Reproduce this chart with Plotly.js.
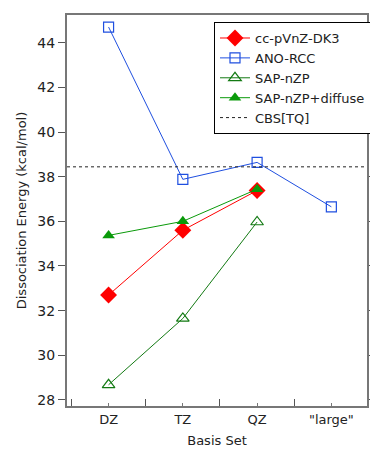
<!DOCTYPE html>
<html><head><meta charset="utf-8">
<script src="https://cdn.plot.ly/plotly-3.0.1.min.js"></script>
<style>html,body{margin:0;background:#fff;overflow:hidden}#c{width:372px;height:452px}</style>
</head><body><div id="c"></div>
<script>
const categories = ['DZ', 'TZ', 'QZ', '"large"'];
const ccDK3 = [32.7, 35.6, 37.38];
const anoRCC = [44.7, 37.88, 38.64, 36.65];
const sapNZP = [28.68, 31.65, 35.97];
const sapDiffuse = [35.37, 36.0, 37.44];
const cbsTQ = 38.44;
const yTicks = [28, 30, 32, 34, 36, 38, 40, 42, 44];
const catIdx = categories.map((c, i) => i);
const xr = [-0.56, 3.48];
const font = 'DejaVu Sans, Verdana, sans-serif';

const traces = [
  {x: categories.slice(0, ccDK3.length), y: ccDK3, name: 'cc-pVnZ-DK3', mode: 'lines+markers',
   line: {color: '#ff0000', width: 1}, marker: {symbol: 'diamond', size: 13, color: '#ff0000'}},
  {x: categories.slice(0, anoRCC.length), y: anoRCC, name: 'ANO-RCC', mode: 'lines+markers',
   line: {color: '#1f4fe0', width: 1}, marker: {symbol: 'square-open', size: 10, color: '#1f4fe0', line: {width: 1.2}}},
  {x: categories.slice(0, sapNZP.length), y: sapNZP, name: 'SAP-nZP', mode: 'lines+markers',
   line: {color: '#137a13', width: 1}, marker: {symbol: 'triangle-up-open', size: 11, color: '#137a13', line: {width: 1.2}}},
  {x: categories.slice(0, sapDiffuse.length), y: sapDiffuse, name: 'SAP-nZP+diffuse', mode: 'lines+markers',
   line: {color: '#0a9a0a', width: 1}, marker: {symbol: 'triangle-up', size: 11, color: '#0a9a0a'}},
  {x: xr, y: [cbsTQ, cbsTQ], name: 'CBS[TQ]', mode: 'lines', xaxis: 'x2',
   line: {color: '#222', width: 1, dash: 'dot'}}
];

const layout = {
  width: 372, height: 452,
  margin: {l: 67, r: 1, t: 15, b: 46},
  paper_bgcolor: '#fff', plot_bgcolor: '#fff',
  font: {family: font, size: 14, color: '#222'},
  showlegend: true,
  legend: {x: 0.49, y: 0.982, xanchor: 'left', yanchor: 'top', bgcolor: '#fff',
    bordercolor: '#000', borderwidth: 1, font: {family: font, size: 13, color: '#222'},
    tracegroupgap: 0},
  xaxis: {type: 'category', range: xr, tickson: 'boundaries', ticks: 'inside', ticklen: 7,
    tickcolor: '#555', showline: true, linecolor: '#777', linewidth: 2, mirror: true,
    showgrid: false, zeroline: false, tickfont: {size: 13},
    title: {text: 'Basis Set', font: {family: font, size: 13}, standoff: 10}},
  xaxis2: {overlaying: 'x', range: xr, tickvals: catIdx, ticks: 'inside', ticklen: 3,
    tickcolor: '#777', showticklabels: false, showgrid: false, zeroline: false, showline: false},
  yaxis: {range: [27.73, 45.24], tickvals: yTicks, ticks: 'outside', ticklen: 7,
    tickcolor: '#555', showline: true, linecolor: '#777', linewidth: 2, mirror: 'ticks',
    showgrid: false, zeroline: false, tickfont: {size: 14},
    title: {text: 'Dissociation Energy (kcal/mol)', font: {family: font, size: 13}, standoff: 8}}
};

Plotly.newPlot('c', traces, layout, {displayModeBar: false, staticPlot: true});
</script></body></html>
